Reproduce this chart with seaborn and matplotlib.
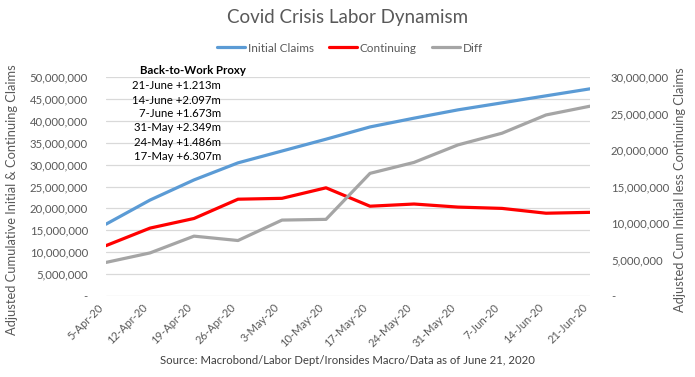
import matplotlib
matplotlib.use("Agg")
import matplotlib.pyplot as plt
import matplotlib.ticker as mticker
import matplotlib.transforms as mtrans
import seaborn as sns
import pandas as pd

dates = ["5-Apr-20", "12-Apr-20", "19-Apr-20", "26-Apr-20", "3-May-20", "10-May-20",
         "17-May-20", "24-May-20", "31-May-20", "7-Jun-20", "14-Jun-20", "21-Jun-20"]
initial_claims = [16.4e6, 21.9e6, 26.5e6, 30.4e6, 33.1e6, 35.8e6,
                  38.6e6, 40.6e6, 42.5e6, 44.1e6, 45.7e6, 47.3e6]
continuing = [11.5e6, 15.5e6, 17.7e6, 22.1e6, 22.3e6, 24.7e6,
              20.5e6, 21.0e6, 20.3e6, 20.0e6, 18.9e6, 19.1e6]
diff = [4.6e6, 5.9e6, 8.2e6, 7.6e6, 10.4e6, 10.5e6,
        16.8e6, 18.3e6, 20.7e6, 22.3e6, 24.8e6, 26.0e6]
proxy_header = "Back-to-Work Proxy"
proxy_lines = ["21-June +1.213m", "14-June +2.097m", "7-June +1.673m",
               "31-May +2.349m", "24-May +1.486m", "17-May +6.307m"]

sns.set_theme(style="white")
plt.rcParams["font.family"] = ["Lato", "DejaVu Sans"]

TXT = "#595959"
df = pd.DataFrame({"pos": range(len(dates)), "Initial Claims": initial_claims,
                   "Continuing": continuing, "Diff": diff})

fig = plt.figure(figsize=(6.95, 3.77), dpi=100)
ax = fig.add_axes([106 / 695, 1 - 296 / 377, (590 - 106) / 695, (296 - 77) / 377])
ax2 = ax.twinx()

sns.lineplot(data=df, x="pos", y="Initial Claims", ax=ax, color="#5B9BD5", lw=2.3, label="Initial Claims", legend=False)
sns.lineplot(data=df, x="pos", y="Continuing", ax=ax, color="#FF0000", lw=2.3, label="Continuing", legend=False)
sns.lineplot(data=df, x="pos", y="Diff", ax=ax2, color="#A5A5A5", lw=2.3, label="Diff", legend=False)

ax.set_xlim(0, len(dates) - 1)
ax.set_ylim(0, 50e6)
ax2.set_ylim(0, 30e6)
ax.yaxis.set_major_locator(mticker.MultipleLocator(5e6))
ax2.yaxis.set_major_locator(mticker.MultipleLocator(5e6))
fmt = mticker.FuncFormatter(lambda v, p: "-" if abs(v) < 1 else f"{v:,.0f}")
ax.yaxis.set_major_formatter(fmt)
ax2.yaxis.set_major_formatter(fmt)

ax.grid(axis="y", color="#D9D9D9", lw=0.9)
ax.set_axisbelow(True)
for a in (ax, ax2):
    for s in a.spines.values():
        s.set_visible(False)
    a.set_xlabel("")
    a.set_ylabel("")
ax.set_xticks(range(len(dates)))
ax.set_xticklabels(dates, rotation=45, ha="right", va="center", rotation_mode="anchor")
ax.tick_params(axis="x", length=0, pad=7, labelsize=8, labelcolor=TXT)
ax.tick_params(axis="y", length=0, pad=13, labelsize=8.2, labelcolor=TXT)
ax2.tick_params(axis="y", length=0, pad=15, labelsize=8.2, labelcolor=TXT)
shift = mtrans.ScaledTranslation(-4 / 100, 0, fig.dpi_scale_trans)
for lab in ax.get_xticklabels():
    lab.set_transform(lab.get_transform() + shift)

fig.text(0.5, 1 - 18 / 377, "Covid Crisis Labor Dynamism", ha="center", va="center", fontsize=13.5, color=TXT)
fig.text(347 / 695, 1 - 360 / 377, "Source: Macrobond/Labor Dept/Ironsides Macro/Data as of June 21, 2020",
         ha="center", va="center", fontsize=8.2, color="#404040")
fig.text(12 / 695, 1 - 200 / 377, "Adjusted Cumulative Initial & Continuing Claims", rotation=90,
         ha="center", va="center", fontsize=9.3, color=TXT)
fig.text(680 / 695, 1 - 190 / 377, "Adjusted Cum Initial less Continuing Claims", rotation=90,
         ha="center", va="center", fontsize=9.3, color=TXT)

fig.text(140 / 695, 1 - 70 / 377, proxy_header, ha="left", va="center", fontsize=8.2, fontweight="bold", color="black")
ys = [85.7, 100, 113.5, 128, 142.3, 156.5]
for t, y in zip(proxy_lines, ys):
    fig.text(221 / 695, 1 - y / 377, t, ha="right", va="center", fontsize=8.2, color="black")

handles = ax.get_lines()[:2] + ax2.get_lines()[:1]
fig.legend(handles, ["Initial Claims", "Continuing", "Diff"], loc="center",
           bbox_to_anchor=(350 / 695, 1 - 48 / 377), ncol=3, frameon=False,
           fontsize=8.5, labelcolor=TXT, handlelength=2.4, columnspacing=1.3, handletextpad=0.2)

fig.savefig("out.png", dpi=100)
